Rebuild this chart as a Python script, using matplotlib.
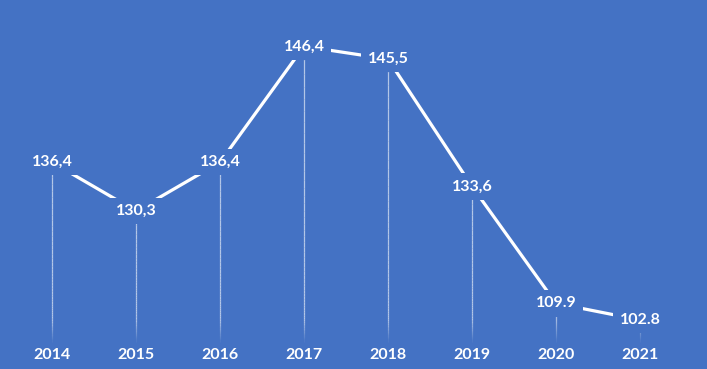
import numpy as np
import matplotlib.pyplot as plt
from matplotlib import transforms
from matplotlib.collections import LineCollection

# data
years = ['2014', '2015', '2016', '2017', '2018', '2019', '2020', '2021']
values = [136.4, 130.3, 136.4, 146.4, 145.5, 133.6, 109.9, 102.8]
value_labels = ['136,4', '130,3', '136,4', '146,4', '145,5', '133,6', '109.9', '102.8']

BG = '#4472C4'
plt.rcParams['font.family'] = ['Lato', 'DejaVu Sans']

fig = plt.figure(figsize=(7.07, 3.69), dpi=100, facecolor=BG)
ax = fig.add_axes([0, 0.1084, 1, 0.8916])
ax.set_facecolor(BG)

# the original is not drawn to a linear scale, the low values are squeezed
s = 22.0
ax.set_yscale('function', functions=(lambda v: np.exp(np.asarray(v) / s),
                                     lambda f: s * np.log(np.asarray(f))))
ax.set_xlim(-0.619, 7.798)
ax.set_ylim(97.7, 149.4)

x = np.arange(len(years))

# drop lines, fading out towards the bottom
drop_bottom = 87.3
segs, cols = [], []
for xi, v in zip(x, values):
    ys = np.linspace(v, drop_bottom, 60)
    pix = ax.transData.transform(np.column_stack([np.full_like(ys, xi), ys]))[:, 1]
    pix_bottom = pix[-1]
    for i in range(len(ys) - 1):
        segs.append([(xi, ys[i]), (xi, ys[i + 1])])
        a = 0.6 * min(1.0, (pix[i + 1] - pix_bottom) / 22.0)
        cols.append((1, 1, 1, max(a, 0.05)))
ax.add_collection(LineCollection(segs, colors=cols, linewidths=0.9,
                                 zorder=1, clip_on=False, capstyle='butt'))

# main line
ax.plot(x, values, color='white', lw=2.3, zorder=2, solid_capstyle='butt')

# value labels sit on the points and hide the line behind them
for xi, v, lab in zip(x, values, value_labels):
    ax.text(xi, v, lab, ha='center', va='center', color='white',
            fontsize=11.5, fontweight='bold', zorder=3, clip_on=False,
            bbox=dict(facecolor=BG, edgecolor='none', pad=4.5))

# year labels along the bottom of the figure
trans = transforms.blended_transform_factory(ax.transData, fig.transFigure)
for xi, yr in zip(x, years):
    ax.text(xi, 0.038, yr, ha='center', va='center', color='white',
            fontsize=11.5, fontweight='bold', transform=trans, clip_on=False)

ax.axis('off')

fig.savefig('out.png', dpi=100, facecolor=BG)
